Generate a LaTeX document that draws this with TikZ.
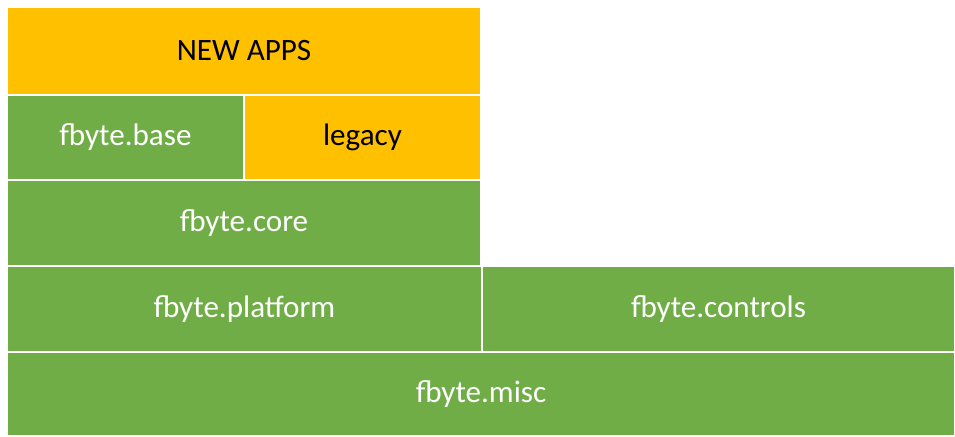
\documentclass[tikz,border=0pt]{standalone}
\usepackage{fontspec}
\setmainfont{Carlito}
\definecolor{offorange}{HTML}{FFC000}
\definecolor{offgreen}{HTML}{70AD47}
\begin{document}
\begin{tikzpicture}[x=0.02cm,y=-0.02cm,
  blk/.style={draw=white,line width=0.04cm,inner sep=0pt,font=\fontsize{17.7}{20}\selectfont},
  og/.style={blk,fill=offorange,text=black},
  gr/.style={blk,fill=offgreen,text=white}]
\useasboundingbox (0,0) rectangle (955,436);
\node[og,minimum width=9.48cm,minimum height=1.76cm] (apps) at (244,51) {NEW APPS};
\node[gr,minimum width=4.74cm,minimum height=1.70cm] (base) at (125.5,137.5) {fbyte.base};
\node[og,minimum width=4.74cm,minimum height=1.70cm] (legacy) at (362.5,137.5) {legacy};
\node[gr,minimum width=9.48cm,minimum height=1.72cm] (core) at (244,223) {fbyte.core};
\node[gr,minimum width=9.50cm,minimum height=1.72cm] (platform) at (244.5,309) {fbyte.platform};
\node[gr,minimum width=9.46cm,minimum height=1.72cm] (controls) at (718.5,309) {fbyte.controls};
\node[gr,minimum width=18.96cm,minimum height=1.68cm] (misc) at (481,394) {fbyte.misc};
\end{tikzpicture}
\end{document}
